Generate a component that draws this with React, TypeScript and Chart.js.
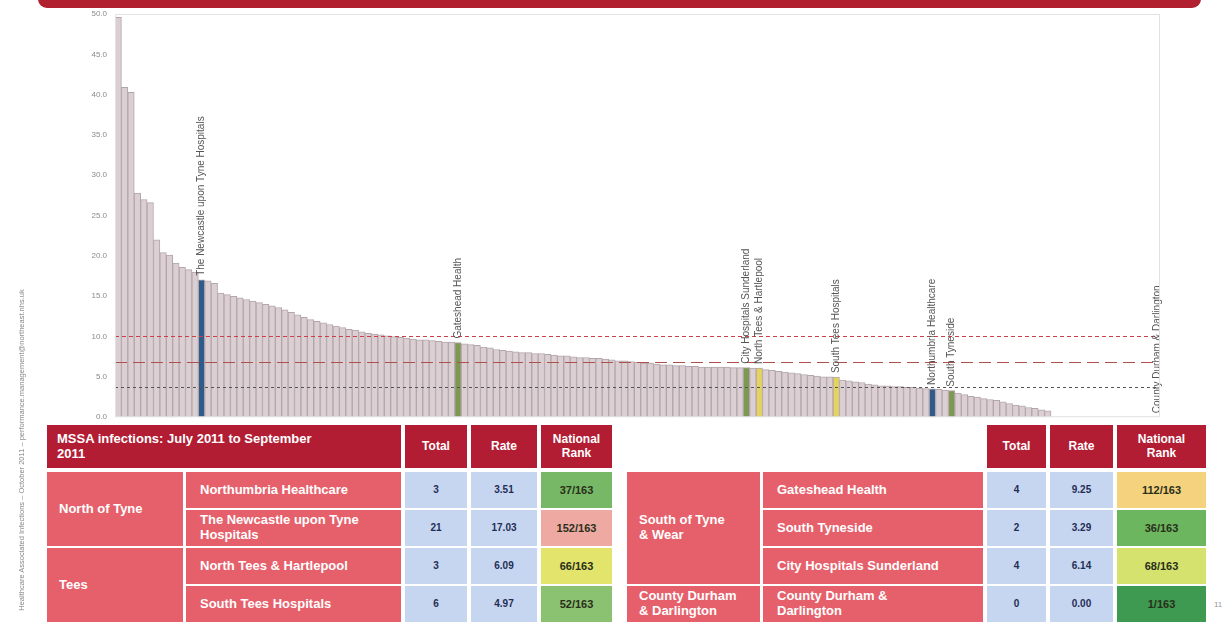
import React, { useEffect, useRef } from 'react';
import { Chart, registerables } from 'chart.js';

Chart.register(...registerables);

// MSSA rate per trust, sorted descending (163 acute trusts)
const rates: number[] = [
  49.6, 40.9, 40.3, 27.8, 27.0, 26.6, 22.0, 20.4, 20.1, 19.1,
  18.6, 18.3, 18.0, 17.03, 16.9, 16.6, 15.4, 15.2, 15.0, 14.8,
  14.6, 14.4, 14.2, 14.0, 13.8, 13.6, 13.3, 13.0, 12.7, 12.4,
  12.1, 11.9, 11.7, 11.5, 11.3, 11.1, 10.9, 10.8, 10.6, 10.4,
  10.3, 10.2, 10.1, 10.0, 9.9, 9.8, 9.7, 9.6, 9.6, 9.5,
  9.4, 9.3, 9.3, 9.25, 9.1, 9.0, 8.9, 8.7, 8.6, 8.4,
  8.3, 8.2, 8.1, 8.0, 8.0, 7.9, 7.9, 7.8, 7.7, 7.6,
  7.6, 7.5, 7.4, 7.4, 7.3, 7.3, 7.2, 7.1, 7.0, 7.0,
  6.9, 6.8, 6.7, 6.7, 6.6, 6.5, 6.5, 6.4, 6.4, 6.3,
  6.3, 6.2, 6.2, 6.2, 6.2, 6.2, 6.15, 6.15, 6.14, 6.1,
  6.09, 5.9, 5.8, 5.7, 5.6, 5.5, 5.4, 5.3, 5.2, 5.1,
  5.0, 5.0, 4.97, 4.6, 4.5, 4.4, 4.3, 4.1, 4.0, 3.9,
  3.9, 3.8, 3.8, 3.7, 3.7, 3.6, 3.55, 3.51, 3.45, 3.35,
  3.29, 3.0, 2.8, 2.6, 2.5, 2.3, 2.2, 2.1, 1.9, 1.7,
  1.5, 1.4, 1.2, 1.1, 0.9, 0.8, 0, 0, 0, 0,
  0, 0, 0, 0, 0, 0, 0, 0, 0, 0,
  0, 0, 0,
];

const categories: string[] = rates.map((_, i) => `Trust ${i + 1}`);

// Highlighted North East trusts
const highlightIndex = [13, 53, 98, 100, 112, 127, 130, 162];
const highlightNames = [
  'The Newcastle upon Tyne Hospitals',
  'Gateshead Health',
  'City Hospitals Sunderland',
  'North Tees & Hartlepool',
  'South Tees Hospitals',
  'Northumbria Healthcare',
  'South Tyneside',
  'County Durham & Darlington',
];
const highlightColors = ['#2f5b8c', '#7d9850', '#7d9850', '#e4d35c', '#e4d35c', '#2f5b8c', '#7d9850', '#7d9850'];

// Reference lines
const refValues = [10.1, 6.9, 3.7];
const refColors = ['#c8404a', '#b0504a', '#555555'];
const refDashes = [[4, 3], [12, 6], [3, 3]];

const yTickValues = [0, 5, 10, 15, 20, 25, 30, 35, 40, 45, 50];

// Tables
const headerTitle = 'MSSA infections: July 2011 to September 2011';
const leftGroups = ['North of Tyne', 'Tees'];
const leftTrusts = ['Northumbria Healthcare', 'The Newcastle upon Tyne Hospitals', 'North Tees & Hartlepool', 'South Tees Hospitals'];
const leftTotals = ['3', '21', '3', '6'];
const leftRates = ['3.51', '17.03', '6.09', '4.97'];
const leftRanks = ['37/163', '152/163', '66/163', '52/163'];
const leftRankColors = ['#76b866', '#eeaaa2', '#e2e46c', '#8ac272'];

const rightGroups = ['South of Tyne\n& Wear', 'County Durham\n& Darlington'];
const rightTrusts = ['Gateshead Health', 'South Tyneside', 'City Hospitals Sunderland', 'County Durham &\nDarlington'];
const rightTotals = ['4', '2', '4', '0'];
const rightRates = ['9.25', '3.29', '6.14', '0.00'];
const rightRanks = ['112/163', '36/163', '68/163', '1/163'];
const rightRankColors = ['#f5d27e', '#6cb660', '#d6e26e', '#3d9a50'];

const FONT = '"Liberation Sans", Arial, sans-serif';
const RED = '#e6606b';
const DARK = '#b21d33';
const BLUE = '#c7d6f0';

const overlayPlugin = {
  id: 'overlay',
  afterDatasetsDraw(chart: any) {
    const { ctx, chartArea: a, scales } = chart;
    const y = scales.y;
    ctx.save();
    refValues.forEach((v, k) => {
      const py = Math.round(y.getPixelForValue(v)) + 0.5;
      ctx.strokeStyle = refColors[k];
      ctx.lineWidth = 1;
      ctx.setLineDash(refDashes[k]);
      ctx.beginPath();
      ctx.moveTo(a.left, py);
      ctx.lineTo(a.right, py);
      ctx.stroke();
    });
    ctx.setLineDash([]);
    const meta = chart.getDatasetMeta(0);
    ctx.font = `10px ${FONT}`;
    ctx.fillStyle = '#555';
    highlightIndex.forEach((idx, k) => {
      const el = meta.data[idx];
      ctx.save();
      ctx.translate(el.x, el.y - 4);
      ctx.rotate(-Math.PI / 2);
      ctx.textAlign = 'left';
      ctx.textBaseline = 'middle';
      ctx.fillText(highlightNames[k], 0, 0);
      ctx.restore();
    });
    ctx.strokeStyle = '#e2e2e2';
    ctx.strokeRect(a.left + 0.5, a.top + 0.5, a.width - 1, a.height - 1);
    ctx.restore();
  },
};

function ChartCanvas() {
  const ref = useRef<HTMLCanvasElement>(null);
  useEffect(() => {
    if (!ref.current) return;
    const colors = rates.map((_, i) => {
      const k = highlightIndex.indexOf(i);
      return k >= 0 ? highlightColors[k] : '#dccfd3';
    });
    const chart = new Chart(ref.current, {
      type: 'bar',
      data: {
        labels: categories,
        datasets: [
          {
            data: rates,
            backgroundColor: colors,
            borderColor: '#b2a6aa',
            borderWidth: 1,
            barPercentage: 1,
            categoryPercentage: 1,
          },
        ],
      },
      options: {
        animation: false,
        responsive: true,
        maintainAspectRatio: false,
        layout: { padding: { left: 0, right: 72, top: 14, bottom: 12 } },
        plugins: { legend: { display: false }, tooltip: { enabled: false }, title: { display: false } },
        scales: {
          x: { display: false },
          y: {
            min: 0,
            max: 50,
            afterBuildTicks: (s: any) => {
              s.ticks = yTickValues.map((v) => ({ value: v }));
            },
            afterFit: (s: any) => {
              s.width = 115;
            },
            ticks: {
              callback: (v: any) => Number(v).toFixed(1),
              font: { size: 8, family: FONT },
              color: '#8a8a8a',
              padding: 8,
            },
            grid: { display: false, drawTicks: false },
            border: { display: false },
          },
        },
      },
      plugins: [overlayPlugin],
    });
    return () => chart.destroy();
  }, []);
  return (
    <div style={{ position: 'absolute', left: 0, top: 0, width: 1232, height: 430 }}>
      <canvas ref={ref} />
    </div>
  );
}

type CellProps = {
  x0: number; x1: number; y0: number; y1: number; bg: string; color?: string;
  size?: number; align?: 'left' | 'center'; pad?: number; children?: React.ReactNode; textWidth?: number;
};

function Cell({ x0, x1, y0, y1, bg, color = '#fff', size = 13, align = 'left', pad = 12, children, textWidth }: CellProps) {
  return (
    <div
      style={{
        position: 'absolute', left: x0, top: y0, width: x1 - x0, height: y1 - y0, background: bg,
        display: 'flex', alignItems: 'center', justifyContent: align === 'center' ? 'center' : 'flex-start',
        boxSizing: 'border-box', paddingLeft: align === 'center' ? 0 : pad, color, fontFamily: FONT,
        fontWeight: 'bold', fontSize: size, lineHeight: 1.15, textAlign: align, whiteSpace: 'pre-line',
      }}
    >
      <div style={{ width: textWidth }}>{children}</div>
    </div>
  );
}

const rowTops = [472, 510, 548, 586];
const rowH = 36;

function Table({ side }: { side: 'left' | 'right' }) {
  const L = side === 'left';
  const c = L
    ? { g: [47, 183], t: [186, 401], tot: [405, 467], r: [471, 537], rk: [541, 612] }
    : { g: [627, 760], t: [763, 983], tot: [987, 1046], r: [1050, 1113], rk: [1117, 1206] };
  const trusts = L ? leftTrusts : rightTrusts;
  const totals = L ? leftTotals : rightTotals;
  const rts = L ? leftRates : rightRates;
  const ranks = L ? leftRanks : rightRanks;
  const rankColors = L ? leftRankColors : rightRankColors;
  const groups = L ? leftGroups : rightGroups;
  const spans = L ? [[0, 1], [2, 3]] : [[0, 2], [3, 3]];
  const hy0 = 425, hy1 = 468;
  const cells: React.ReactNode[] = [];
  if (L) {
    cells.push(
      <Cell key="h" x0={c.g[0]} x1={c.t[1]} y0={hy0} y1={hy1} bg={DARK} size={13} pad={10} textWidth={285}>
        {headerTitle}
      </Cell>
    );
  }
  cells.push(<Cell key="ht" x0={c.tot[0]} x1={c.tot[1]} y0={hy0} y1={hy1} bg={DARK} size={12} align="center">Total</Cell>);
  cells.push(<Cell key="hr" x0={c.r[0]} x1={c.r[1]} y0={hy0} y1={hy1} bg={DARK} size={12} align="center">Rate</Cell>);
  cells.push(
    <Cell key="hk" x0={c.rk[0]} x1={c.rk[1]} y0={hy0} y1={hy1} bg={DARK} size={12} align="center">
      {'National\nRank'}
    </Cell>
  );
  groups.forEach((g, k) => {
    const [a, b] = spans[k];
    cells.push(
      <Cell key={'g' + k} x0={c.g[0]} x1={c.g[1]} y0={rowTops[a]} y1={rowTops[b] + rowH} bg={RED} size={13} pad={12}>
        {g}
      </Cell>
    );
  });
  trusts.forEach((t, i) => {
    const y0 = rowTops[i];
    const y1 = y0 + rowH;
    cells.push(
      <Cell key={'t' + i} x0={c.t[0]} x1={c.t[1]} y0={y0} y1={y1} bg={RED} size={13} pad={14} textWidth={L ? 190 : 190}>
        {t}
      </Cell>
    );
    cells.push(<Cell key={'n' + i} x0={c.tot[0]} x1={c.tot[1]} y0={y0} y1={y1} bg={BLUE} color="#1f2d55" size={10} align="center">{totals[i]}</Cell>);
    cells.push(<Cell key={'r' + i} x0={c.r[0]} x1={c.r[1]} y0={y0} y1={y1} bg={BLUE} color="#1f2d55" size={10} align="center">{rts[i]}</Cell>);
    cells.push(<Cell key={'k' + i} x0={c.rk[0]} x1={c.rk[1]} y0={y0} y1={y1} bg={rankColors[i]} color="#2a2f1a" size={11} align="center">{ranks[i]}</Cell>);
  });
  return <>{cells}</>;
}

export default function App() {
  return (
    <div style={{ position: 'fixed', left: 0, top: 0, width: 1232, height: 624, background: '#fff', overflow: 'hidden' }}>
      <div style={{ position: 'absolute', left: 38, top: -10, width: 1163, height: 18, background: '#b0202e', borderRadius: 9 }} />
      <ChartCanvas />
      <Table side="left" />
      <Table side="right" />
      <div
        style={{
          position: 'absolute', left: 22 - 170, top: 450 - 5, width: 340, height: 10, transform: 'rotate(-90deg)',
          fontFamily: FONT, fontSize: 7.5, color: '#8a8a8a', textAlign: 'center', whiteSpace: 'nowrap', lineHeight: '10px',
        }}
      >
        Healthcare Associated Infections – October 2011 – performance.management@northeast.nhs.uk
      </div>
      <div style={{ position: 'absolute', left: 1214, top: 600, fontFamily: FONT, fontSize: 8, color: '#999' }}>11</div>
    </div>
  );
}
